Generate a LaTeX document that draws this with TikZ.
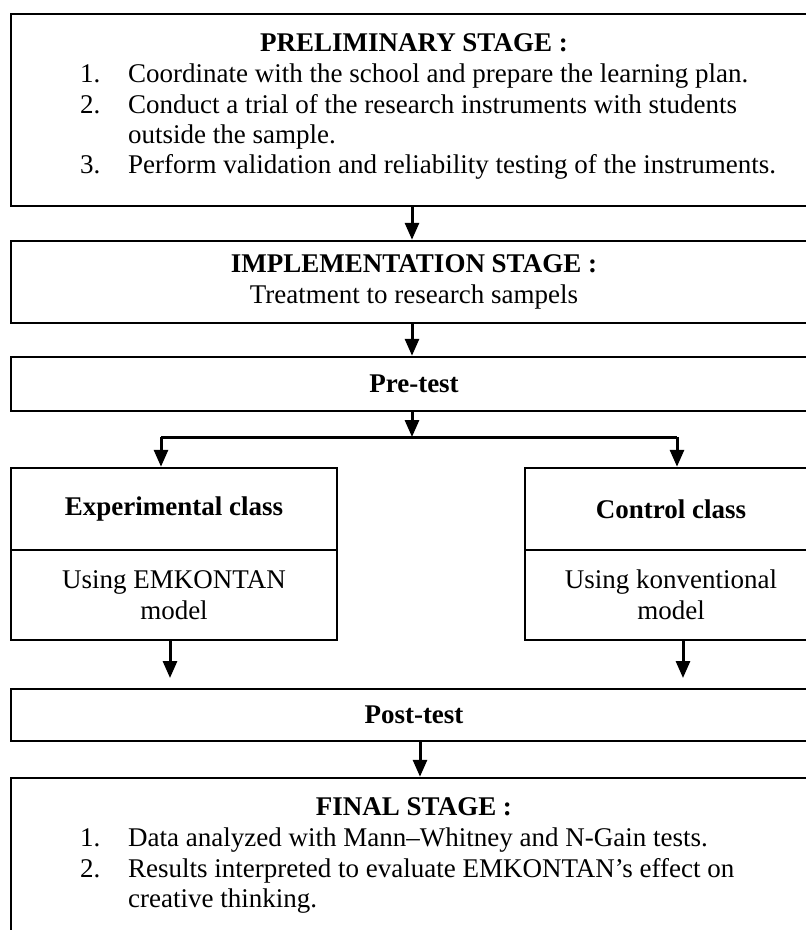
\documentclass[tikz,border=0pt]{standalone}
\usepackage{fontspec}
\setmainfont{Liberation Serif}
\usepackage{tikz}
\usetikzlibrary{arrows.meta,positioning}

\tikzset{
  stagebox/.style={draw, line width=2.5pt, minimum width=806pt, inner sep=0pt, align=center},
  classbox/.style={draw, line width=2.5pt, inner sep=0pt, align=center},
  flow/.style={line width=3pt, -{Triangle[width=14pt,length=17pt]}},
  listnum/.style={anchor=base west, inner sep=0pt},
  listtxt/.style={anchor=base west, inner sep=0pt},
}

\begin{document}
\fontsize{27pt}{31pt}\selectfont
\begin{tikzpicture}[x=1pt,y=1pt,yscale=-1,xscale=1]
\clip (0,0) rectangle (806,930);

\node[stagebox, minimum height=192pt] (prelim) at (414,110) {};
\node[font=\bfseries, anchor=base] (prelimtitle) at (414,51) {PRELIMINARY STAGE :};
\node[listnum] (p1) at (80,82) {1.};
\node[listtxt] (p1t) at (128,82) {Coordinate with the school and prepare the learning plan.};
\node[listnum] (p2) at (80,113) {2.};
\node[listtxt] (p2t) at (128,113) {Conduct a trial of the research instruments with students};
\node[listtxt] (p2b) at (128,143) {outside the sample.};
\node[listnum] (p3) at (80,173) {3.};
\node[listtxt] (p3t) at (128,173) {Perform validation and reliability testing of the instruments.};

\node[stagebox, minimum height=82pt] (impl) at (414,282) {\textbf{IMPLEMENTATION STAGE :}\\Treatment to research sampels};

\node[stagebox, minimum height=54pt, font=\bfseries] (pre) at (414,384) {Pre-test};

\coordinate (split) at (414,437);

\node[classbox, minimum width=326pt, minimum height=82pt, font=\bfseries] (exp) at (174,509) {Experimental class};
\node[classbox, minimum width=326pt, minimum height=90pt] (expbody) at (174,595) {Using EMKONTAN\\model};

\node[classbox, minimum width=292pt, minimum height=82pt, font=\bfseries] (ctrl) at (671,509) {Control class};
\node[classbox, minimum width=292pt, minimum height=90pt] (ctrlbody) at (671,595) {Using konventional\\model};

\coordinate (expend) at (170,678);
\coordinate (ctrlend) at (683,678);

\node[stagebox, minimum height=52pt, font=\bfseries] (post) at (414,715) {Post-test};

\node[stagebox, minimum height=180pt] (final) at (414,868) {};
\node[font=\bfseries, anchor=base] (finaltitle) at (414,815) {FINAL STAGE :};
\node[listnum] (f1) at (80,846) {1.};
\node[listtxt] (f1t) at (128,846) {Data analyzed with Mann–Whitney and N-Gain tests.};
\node[listnum] (f2) at (80,877) {2.};
\node[listtxt] (f2t) at (128,877) {Results interpreted to evaluate EMKONTAN’s effect on};
\node[listtxt] (f2b) at (128,907) {creative thinking.};

\draw[flow] ([xshift=-2pt]prelim.south) -- ([xshift=-2pt]impl.north);
\draw[flow] ([xshift=-2pt]impl.south) -- ([xshift=-2pt]pre.north);
\draw[flow] ([xshift=-2pt]pre.south) -- ([xshift=-2pt]split);
\draw[line width=3pt] ([xshift=-13pt]exp.north |- split) -- ([xshift=6pt]ctrl.north |- split);
\draw[flow] ([xshift=-13pt]exp.north |- split) -- ([xshift=-13pt]exp.north);
\draw[flow] ([xshift=6pt]ctrl.north |- split) -- ([xshift=6pt]ctrl.north);
\draw[flow] (expbody.south -| expend) -- (expend);
\draw[flow] (ctrlbody.south -| ctrlend) -- (ctrlend);
\draw[flow] ([xshift=6pt]post.south) -- ([xshift=6pt]final.north);
\end{tikzpicture}
\end{document}
